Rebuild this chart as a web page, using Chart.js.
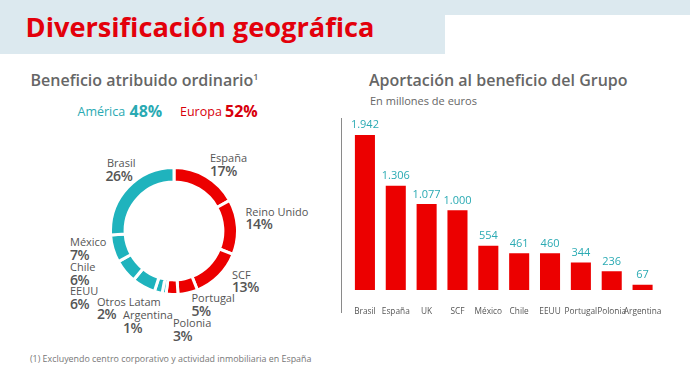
<!DOCTYPE html>
<html>
<head>
<meta charset="utf-8">
<script src="https://cdn.jsdelivr.net/npm/chart.js@4/dist/chart.umd.min.js"></script>
<style>
  html, body { margin:0; padding:0; background:#fff; }
  body { width:690px; height:378px; position:relative; overflow:hidden; font-family:"Open Sans", sans-serif; }
  .abs { position:absolute; line-height:1; white-space:nowrap; }
  .band { position:absolute; background:#dce9ef; }
  .title { color:#e3000b; font-weight:700; font-size:27.2px; }
  .sec { color:#666; font-weight:600; font-size:16px; }
  .nm { color:#555; font-size:11px; }
  .pc { color:#555; font-size:14px; font-weight:600; letter-spacing:-0.4px; }
</style>
</head>
<body>
<div class="band" style="left:0;top:0;width:690px;height:15px"></div>
<div class="band" style="left:0;top:0;width:445px;height:54px"></div>
<div class="abs title" style="left:25.5px;top:12.5px">Diversificación geográfica</div>

<div class="abs sec" style="left:30.5px;top:72px">Beneficio atribuido ordinario<sup style="font-size:9px;vertical-align:6px">1</sup></div>
<div id="regions"></div>

<div class="abs sec" style="left:369px;top:72px">Aportación al beneficio del Grupo</div>
<div class="abs" style="left:370px;top:94.5px;font-size:11px;color:#666">En millones de euros</div>

<div class="abs" style="left:30px;top:355px;font-size:8.9px;color:#777">(1) Excluyendo centro corporativo y actividad inmobiliaria en España</div>

<div id="donutLabels"></div>

<div style="position:absolute;left:109px;top:166px;width:130px;height:130px"><canvas id="donut"></canvas></div>
<div style="position:absolute;left:340px;top:100px;width:345px;height:230px"><canvas id="bars"></canvas></div>

<script>
// ---- data ----
const regionNames = ['América', 'Europa'];
const regionShares = [48, 52];

const donutCategories = ['España', 'Reino Unido', 'SCF', 'Portugal', 'Polonia', 'Argentina', 'Otros Latam', 'EEUU', 'Chile', 'México', 'Brasil'];
const donutShares = [17, 14, 13, 5, 3, 1, 2, 6, 6, 7, 26];
const donutRegion = ['Europa', 'Europa', 'Europa', 'Europa', 'Europa', 'América', 'América', 'América', 'América', 'América', 'América'];

const barCategories = ['Brasil', 'España', 'UK', 'SCF', 'México', 'Chile', 'EEUU', 'Portugal', 'Polonia', 'Argentina'];
const barValues = [1942, 1306, 1077, 1000, 554, 461, 460, 344, 236, 67];

// ---- styling / layout ----
const RED = '#ec0000';
const TEAL = '#1fb3bd';
const TEAL_TXT = '#2aaab3';
const regionColor = { 'América': TEAL, 'Europa': RED };

// label layout (left, name top, pct top) for donut labels
const donutLabelPos = {
  'España':      [210, 152, 163.5],
  'Reino Unido': [245.5, 205.5, 217],
  'SCF':         [232, 268.5, 280],
  'Portugal':    [191.5, 292, 303.5],
  'Polonia':     [173, 317, 328.5],
  'Argentina':   [123, 309, 320.5],
  'Otros Latam': [97, 295.5, 307],
  'EEUU':        [70, 285, 297],
  'Chile':       [70, 261, 272.5],
  'México':      [70, 235.5, 247.5],
  'Brasil':      [107, 157, 168.5]
};
const regionPos = { 'América': [77.5, 129.5], 'Europa': [180, 225] };

function fmt(v) { return String(v).replace(/\B(?=(\d{3})+(?!\d))/g, '.'); }

// region header texts
const regDiv = document.getElementById('regions');
regionNames.forEach((r, i) => {
  const c = r === 'América' ? TEAL_TXT : '#d8000c';
  const p = regionPos[r];
  const a = document.createElement('div');
  a.className = 'abs'; a.style.cssText = `left:${p[0]}px;top:106px;font-size:12.5px;color:${c}`;
  a.textContent = r; regDiv.appendChild(a);
  const b = document.createElement('div');
  b.className = 'abs'; b.style.cssText = `left:${p[1]}px;top:103px;font-size:16px;font-weight:700;color:${c}`;
  b.textContent = regionShares[i] + '%'; regDiv.appendChild(b);
});

// donut labels
const dl = document.getElementById('donutLabels');
donutCategories.forEach((name, i) => {
  const p = donutLabelPos[name];
  const n = document.createElement('div');
  n.className = 'abs nm'; n.style.left = p[0] + 'px'; n.style.top = p[1] + 'px';
  n.textContent = name; dl.appendChild(n);
  const q = document.createElement('div');
  q.className = 'abs pc'; q.style.left = (name === 'Brasil' ? p[0] - 1.5 : p[0]) + 'px'; q.style.top = p[2] + 'px';
  q.textContent = donutShares[i] + '%'; dl.appendChild(q);
});

Chart.defaults.font.family = '"Open Sans", sans-serif';

new Chart(document.getElementById('donut'), {
  type: 'doughnut',
  data: {
    labels: donutCategories,
    datasets: [{
      data: donutShares,
      backgroundColor: donutRegion.map(r => regionColor[r]),
      borderColor: '#ffffff',
      borderWidth: 3,
      hoverOffset: 0
    }]
  },
  options: {
    responsive: true, maintainAspectRatio: false, animation: false,
    cutout: '77%',
    plugins: { legend: { display: false }, tooltip: { enabled: false } }
  }
});

const valueLabels = {
  id: 'valueLabels',
  afterDatasetsDraw(chart) {
    const ctx = chart.ctx;
    const meta = chart.getDatasetMeta(0);
    ctx.save();
    ctx.font = '400 11px "Open Sans", sans-serif';
    ctx.fillStyle = TEAL_TXT;
    ctx.textAlign = 'center';
    ctx.textBaseline = 'alphabetic';
    meta.data.forEach((bar, i) => {
      ctx.fillText(fmt(chart.data.datasets[0].data[i]), bar.x, bar.y - 6.5);
    });
    ctx.restore();
  }
};
const axisLine = {
  id: 'axisLine',
  afterDraw(chart) {
    const a = chart.chartArea, ctx = chart.ctx;
    ctx.save();
    ctx.strokeStyle = '#8a8a8a'; ctx.lineWidth = 1;
    ctx.beginPath();
    ctx.moveTo(a.left - 8, a.top + 3.6);
    ctx.lineTo(a.left - 8, a.bottom + 23);
    ctx.stroke();
    ctx.restore();
  }
};

new Chart(document.getElementById('bars'), {
  type: 'bar',
  data: {
    labels: barCategories,
    datasets: [{ data: barValues, backgroundColor: RED, barPercentage: 0.65, categoryPercentage: 1 }]
  },
  options: {
    responsive: true, maintainAspectRatio: false, animation: false,
    layout: { padding: { left: 9.5, right: 27, top: 14.4, bottom: 0 } },
    plugins: { legend: { display: false }, tooltip: { enabled: false } },
    scales: {
      x: {
        grid: { display: false }, border: { display: false },
        ticks: { color: '#555', font: { size: 8.3 }, padding: 9, maxRotation: 0, autoSkip: false },
        afterFit(s) { s.height = 40; }
      },
      y: { display: false, min: 0, max: 2200 }
    }
  },
  plugins: [valueLabels, axisLine]
});
</script>
</body>
</html>
